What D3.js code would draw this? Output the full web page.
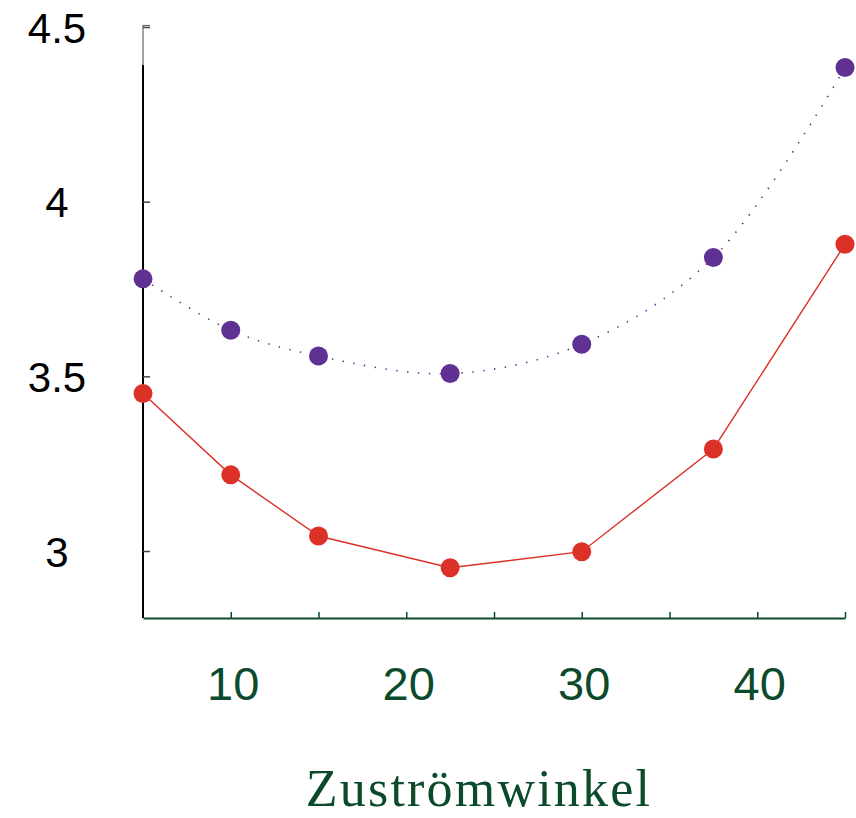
<!DOCTYPE html>
<html>
<head>
<meta charset="utf-8">
<script src="https://cdn.jsdelivr.net/npm/d3@7/dist/d3.min.js"></script>
<style>
  html, body { margin: 0; padding: 0; background: #fff; }
  svg { display: block; }
</style>
</head>
<body>
<svg id="chart" width="856" height="818"></svg>
<script>
// ---- data ----
const angles = [5, 10, 15, 22.5, 30, 37.5, 45];
const seriesPurple = [3.779, 3.632, 3.558, 3.508, 3.592, 3.840, 4.384];
const seriesRed = [3.451, 3.218, 3.043, 2.952, 2.998, 3.292, 3.878];
const xTickValues = [10, 15, 20, 25, 30, 35, 40, 45];
const xTickLabels = ["10", "", "20", "", "30", "", "40", ""];
const yTickValues = [3, 3.5, 4, 4.5];
const yTickLabels = ["3", "3.5", "4", "4.5"];
const xTitle = "Zuströmwinkel";

// ---- layout ----
const svg = d3.select("#chart");
const x = d3.scaleLinear().domain([5, 45]).range([143, 845]);
const y = d3.scaleLinear().domain([3, 4.5]).range([551, 27]);
const axisBottomY = 618;
const axisTopY = 25;
const green = "#0b4a2b";
const purple = "#5e3193";
const red = "#dc3127";

// y axis: gray thin full line + black heavy line below
svg.append("line")
  .attr("x1", x(5)).attr("x2", x(5))
  .attr("y1", axisTopY).attr("y2", axisBottomY)
  .attr("stroke", "#666").attr("stroke-width", 1.2);
svg.append("line")
  .attr("x1", x(5)).attr("x2", x(5) + 7)
  .attr("y1", axisTopY + 0.5).attr("y2", axisTopY + 0.5)
  .attr("stroke", "#666").attr("stroke-width", 1.2);
svg.append("line")
  .attr("x1", x(5)).attr("x2", x(5))
  .attr("y1", 65).attr("y2", axisBottomY)
  .attr("stroke", "#000").attr("stroke-width", 2);

const yAxis = d3.axisLeft(y)
  .tickValues(yTickValues)
  .tickFormat((d, i) => yTickLabels[i])
  .tickSizeInner(-7)
  .tickSizeOuter(0);
const gy = svg.append("g").attr("transform", `translate(${x(5)},0)`).call(yAxis);
gy.select(".domain").remove();
gy.selectAll(".tick line").attr("stroke", "#444").attr("stroke-width", 1.5);
gy.selectAll(".tick text")
  .attr("x", -86)
  .attr("dy", "0.36em")
  .attr("text-anchor", "middle")
  .attr("fill", "#000")
  .style("font-family", "'Liberation Sans', Arial, sans-serif")
  .style("font-size", "42px");

// x axis
const xAxis = d3.axisBottom(x)
  .tickValues(xTickValues)
  .tickFormat((d, i) => xTickLabels[i])
  .tickSizeInner(-6)
  .tickSizeOuter(0);
const gx = svg.append("g").attr("transform", `translate(0,${axisBottomY})`).call(xAxis);
gx.select(".domain").attr("stroke", green).attr("stroke-width", 2);
gx.selectAll(".tick line").attr("stroke", green).attr("stroke-width", 1.5);
gx.selectAll(".tick text")
  .attr("x", 2)
  .attr("y", 82)
  .attr("dy", 0)
  .attr("fill", green)
  .style("font-family", "'Liberation Sans', Arial, sans-serif")
  .style("font-size", "47px");

// x title
svg.append("text")
  .attr("x", 479).attr("y", 806)
  .attr("text-anchor", "middle")
  .attr("fill", green)
  .style("font-family", "'Liberation Serif', 'Times New Roman', serif")
  .style("font-size", "52px")
  .style("letter-spacing", "2.2px")
  .text(xTitle);

// ---- series ----
const purpleData = angles.map((a, i) => ({ a, v: seriesPurple[i] }));
const redData = angles.map((a, i) => ({ a, v: seriesRed[i] }));

const smooth = d3.line().x(d => x(d.a)).y(d => y(d.v)).curve(d3.curveCatmullRom.alpha(0.5));
const straight = d3.line().x(d => x(d.a)).y(d => y(d.v));

svg.append("path")
  .datum(purpleData)
  .attr("d", smooth)
  .attr("fill", "none")
  .attr("stroke", purple)
  .attr("stroke-width", 1.6)
  .attr("stroke-dasharray", "1.4,9.5");

svg.append("path")
  .datum(redData)
  .attr("d", straight)
  .attr("fill", "none")
  .attr("stroke", red)
  .attr("stroke-width", 1.4);

svg.append("g").selectAll("circle")
  .data(purpleData).join("circle")
  .attr("cx", d => x(d.a)).attr("cy", d => y(d.v))
  .attr("r", 9.5).attr("fill", purple);

svg.append("g").selectAll("circle")
  .data(redData).join("circle")
  .attr("cx", d => x(d.a)).attr("cy", d => y(d.v))
  .attr("r", 9.5).attr("fill", red);
</script>
</body>
</html>
